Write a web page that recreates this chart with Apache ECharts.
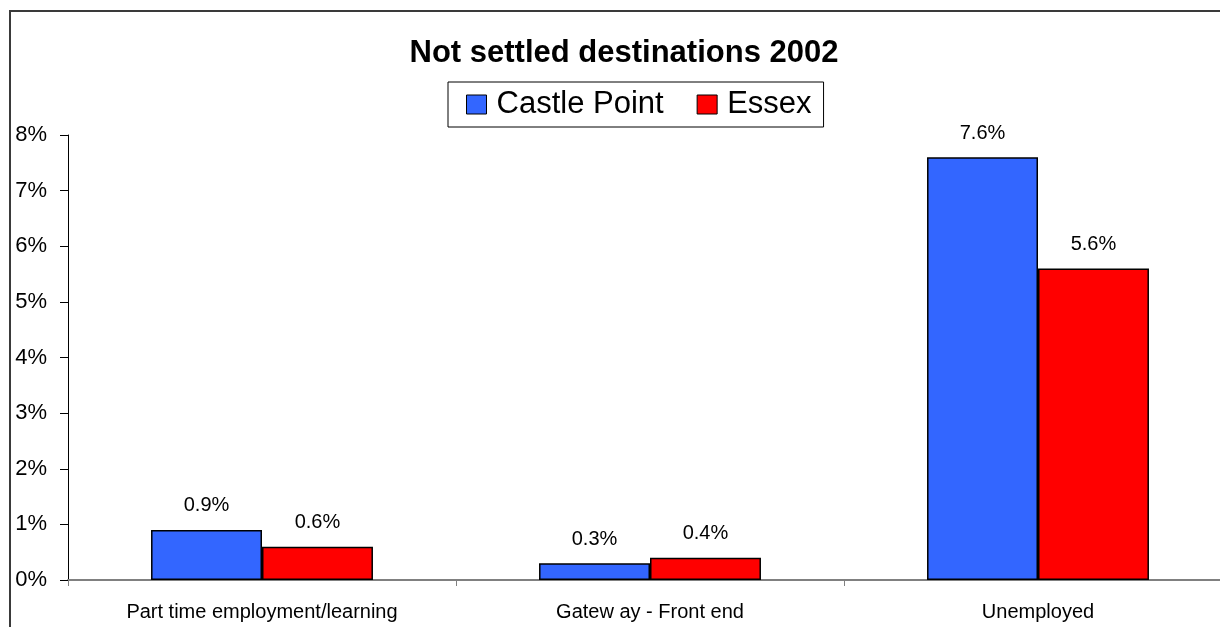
<!DOCTYPE html>
<html>
<head>
<meta charset="utf-8">
<script src="https://cdn.jsdelivr.net/npm/echarts@6/dist/echarts.min.js"></script>
<style>
  html, body { margin: 0; padding: 0; background: #fff; overflow: hidden; }
  #chart { width: 1240px; height: 627px; }
</style>
</head>
<body>
<div id="chart"></div>
<script>
// Destination categories and shares (%) for each area
const categories = ['Part time employment/learning', 'Gatew ay - Front end', 'Unemployed'];
const castlePoint = [0.9, 0.3, 7.6];
const essex = [0.6, 0.4, 5.6];
const seriesNames = ['Castle Point', 'Essex'];
const yTicks = { min: 0, max: 8, interval: 1 };

const FONT = "'Liberation Sans', Arial, sans-serif";

const chart = echarts.init(document.getElementById('chart'), null, { renderer: 'canvas' });

const barLabel = {
  show: true,
  position: 'top',
  distance: 14,
  fontFamily: FONT,
  fontSize: 20,
  color: '#000',
  formatter: p => p.value.toFixed(1) + '%'
};

chart.setOption({
  animation: false,
  backgroundColor: '#fff',
  graphic: [{
    type: 'rect',
    shape: { x: 10, y: 11, width: 1400, height: 800 },
    style: { fill: 'none', stroke: '#3a3a3a', lineWidth: 2 },
    silent: true,
    z: 100
  }],
  title: {
    text: 'Not settled destinations 2002',
    left: 624,
    top: 38,
    textAlign: 'center',
    padding: 0,
    textStyle: { fontFamily: FONT, fontSize: 31, fontWeight: 'bold', color: '#000' }
  },
  legend: {
    left: 448,
    top: 82,
    orient: 'horizontal',
    padding: [7, 12, 7, 18],
    itemGap: 33,
    itemWidth: 20,
    itemHeight: 19,
    borderColor: '#000',
    borderWidth: 1,
    backgroundColor: '#fff',
    icon: 'rect',
    itemStyle: { borderColor: '#000', borderWidth: 1 },
    textStyle: { fontFamily: FONT, fontSize: 31, color: '#000', lineHeight: 31, padding: [0, 0, 0, 5] },
    data: seriesNames
  },
  grid: { left: 68, top: 135, width: 1164, height: 445, containLabel: false },
  xAxis: {
    type: 'category',
    data: categories,
    axisLine: { lineStyle: { color: '#808080', width: 2 } },
    axisTick: { show: true, inside: false, length: 6, lineStyle: { color: '#808080', width: 1 } },
    axisLabel: { fontFamily: FONT, fontSize: 20, color: '#000', margin: 22, interval: 0 }
  },
  yAxis: {
    type: 'value',
    min: yTicks.min,
    max: yTicks.max,
    interval: yTicks.interval,
    axisLine: { show: true, lineStyle: { color: '#000', width: 1 } },
    axisTick: { show: true, inside: false, length: 8, lineStyle: { color: '#000', width: 1 } },
    splitLine: { show: false },
    axisLabel: { fontFamily: FONT, fontSize: 22, color: '#000', margin: 21, formatter: '{value}%' }
  },
  series: [
    {
      name: seriesNames[0],
      type: 'bar',
      data: castlePoint,
      barGap: '0%',
      barCategoryGap: '42.8%',
      itemStyle: { color: '#3366FF', borderColor: '#000', borderWidth: 1.5 },
      label: barLabel
    },
    {
      name: seriesNames[1],
      type: 'bar',
      data: essex,
      barGap: '0%',
      barCategoryGap: '42.8%',
      itemStyle: { color: '#FF0000', borderColor: '#000', borderWidth: 1.5 },
      label: barLabel
    }
  ]
});
</script>
</body>
</html>
